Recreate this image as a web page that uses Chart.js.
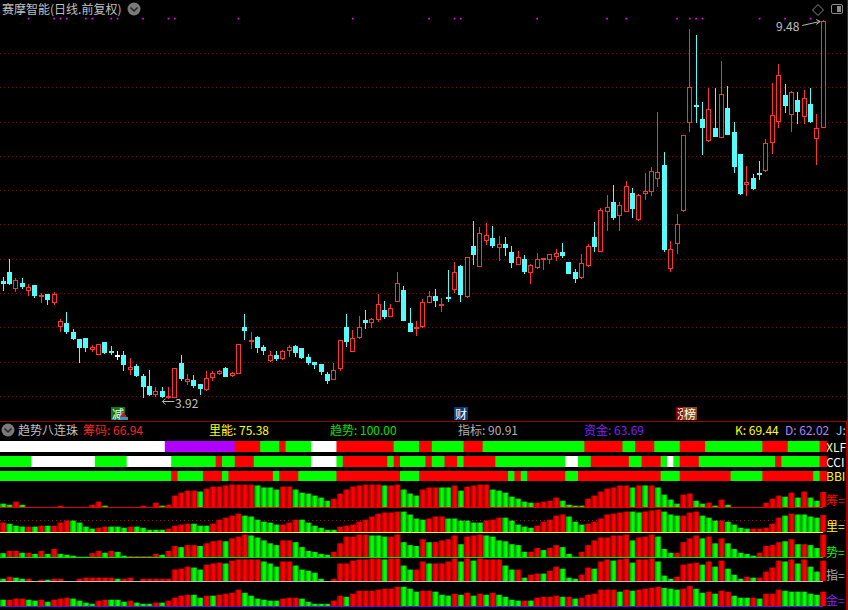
<!DOCTYPE html>
<html>
<head>
<meta charset="utf-8">
<title>赛摩智能</title>
<script src="https://cdn.jsdelivr.net/npm/chart.js@4"></script>
<style>
html, body { margin: 0; padding: 0; background: #000; }
#page { position: relative; width: 848px; height: 610px; overflow: hidden; background: #000; font-family: "Noto Sans CJK SC", "Liberation Sans", sans-serif; font-size: 12px; color: #c0c0c0; }
canvas { position: absolute; left: 0; }
.t { position: absolute; white-space: nowrap; line-height: 16px; }
.badge { position: absolute; top: 407px; height: 13px; width: 14px; overflow: hidden; color: #fff; font-size: 12px; line-height: 13px; text-align: center; }
.rule { position: absolute; background: #a00000; }
svg { position: absolute; }
</style>
</head>
<body>
<div id="page">
  <span class="t" style="left:2px;top:1px">赛摩智能(日线.前复权)</span>
  <svg style="left:127px;top:2px" width="14" height="14"><circle cx="7" cy="7" r="6.5" fill="#7a7a7a"/><path d="M3.5 5.5 L7 9 L10.500 5.500" stroke="#222" stroke-width="1.500" fill="none"/></svg>
  <svg style="left:811px;top:3px" width="14" height="14"><path d="M7 1.500 L12.500 7 L7 12.500 L1.500 7 Z" stroke="#8a8a8a" fill="none"/></svg>
  <svg style="left:831px;top:4px" width="13" height="11"><rect x="0.500" y="0.500" width="11" height="9" rx="1.500" stroke="#8a8a8a" fill="none"/><rect x="6" y="2" width="4" height="6" fill="#8a8a8a"/></svg>

  <span class="t" style="left:776px;top:18px;font-size:12px">9.48</span>
  <span class="t" style="left:175px;top:395px;font-size:12px">3.92</span>

  <span class="badge" style="left:111px;background:#0a7a1a">减</span>
  <svg style="left:120px;top:412px" width="8" height="8"><path d="M3 0 L7 5 L0 5 Z" fill="#e01010"/><path d="M0 5 L8 5 L8 8 L0 8 Z" fill="#20a0c0"/></svg>
  <span class="badge" style="left:454px;background:#0a3c78">财</span>
  <span class="badge" style="left:676px;background:#8a0000">涨</span>
  <span class="badge" style="left:683px;background:#8a4a10">榜</span>

  <div class="rule" style="left:0;top:421px;width:848px;height:1px"></div>
  <div class="rule" style="left:847px;top:0;width:1px;height:421px"></div>
  <div class="rule" style="left:846px;top:421px;width:2px;height:189px"></div>

  <svg style="left:1px;top:423px" width="14" height="14"><circle cx="7" cy="7" r="6.500" fill="#7a7a7a"/><path d="M3.500 5.500 L7 9 L10.500 5.500" stroke="#222" stroke-width="1.500" fill="none"/></svg>
  <span class="t" style="left:18px;top:422px">趋势八连珠</span>
  <span class="t" style="left:83px;top:422px;color:#ff2020">筹码: 66.94</span>
  <span class="t" style="left:209px;top:422px;color:#ffff00">里能: 75.38</span>
  <span class="t" style="left:330px;top:422px;color:#00e000">趋势: 100.00</span>
  <span class="t" style="left:458px;top:422px;color:#b0b0b0">指标: 90.91</span>
  <span class="t" style="left:584px;top:422px;color:#8020ff">资金: 63.69</span>
  <span class="t" style="left:735px;top:422px;color:#ffff00">K: 69.44</span>
  <span class="t" style="left:785px;top:422px;color:#b080ff">D: 62.02</span>
  <span class="t" style="left:836px;top:422px;color:#a0d0ff">J:</span>

  <span class="t" style="left:826px;top:439px;color:#ffffc0">XLF</span>
  <span class="t" style="left:826px;top:454px;color:#ffffff">CCI</span>
  <span class="t" style="left:826px;top:468px;color:#ffff00">BBI</span>
  <span class="t" style="left:826px;top:492px;color:#ff0000">筹=</span>
  <span class="t" style="left:826px;top:518px;color:#ffff00">里=</span>
  <span class="t" style="left:826px;top:544px;color:#00ff00">势=</span>
  <span class="t" style="left:826px;top:567px;color:#b0b0b0">指=</span>
  <span class="t" style="left:826px;top:592px;color:#8020ff">金=</span>
</div>

<script>
// daily candles
var opens = [
5.65,5.78,5.53,5.62,5.50,5.59,5.42,5.46,5.33,4.97,
5.04,4.90,4.80,4.81,4.64,4.57,4.76,4.62,4.53,4.57,
4.35,4.40,4.26,4.11,3.98,4.04,3.94,3.94,4.45,4.17,
4.20,4.14,4.05,4.23,4.29,4.37,4.26,4.29,4.98,4.76,
4.83,4.68,4.48,4.57,4.51,4.62,4.70,4.67,4.54,4.46,
4.43,4.29,4.20,4.36,4.98,4.61,4.81,5.08,5.04,5.08,
5.23,5.13,5.35,5.52,5.04,4.94,4.97,5.33,5.43,5.29,
5.40,5.52,5.87,5.42,6.16,5.86,6.24,6.28,6.14,6.19,
6.08,5.89,5.97,5.77,5.84,5.96,5.96,6.00,6.08,5.93,
5.78,5.70,5.87,6.30,6.08,6.67,6.81,6.61,6.67,6.94,
6.54,6.92,6.96,7.15,7.35,5.82,6.20,6.68,7.97,8.22,
8.03,7.70,7.90,7.75,8.19,7.84,7.51,7.06,7.16,7.22,
7.26,7.68,7.99,8.38,8.08,8.31,8.06,8.25,7.74,7.90];
var highs = [
5.71,5.97,5.70,5.70,5.61,5.59,5.47,5.46,5.49,5.09,
5.20,4.95,4.80,4.81,4.71,4.73,4.76,4.70,4.62,4.62,
4.52,4.43,4.29,4.35,4.10,4.10,4.10,4.37,4.57,4.29,
4.27,4.14,4.33,4.33,4.35,4.39,4.32,4.73,5.17,4.90,
4.84,4.71,4.62,4.62,4.64,4.71,4.71,4.67,4.58,4.46,
4.43,4.32,4.45,4.79,5.17,4.93,5.14,5.23,5.11,5.46,
5.36,5.31,5.78,5.58,5.25,5.06,5.39,5.50,5.53,5.40,
5.81,5.93,5.89,6.00,6.53,6.44,6.50,6.46,6.31,6.30,
6.16,6.09,6.03,5.90,6.06,5.99,6.05,6.12,6.21,5.93,
5.83,6.05,6.20,6.52,6.72,6.91,7.06,6.81,7.12,7.02,
6.93,7.24,7.32,8.13,7.54,6.24,6.63,7.79,9.35,9.26,
8.28,8.48,8.48,8.88,8.51,7.98,7.51,7.34,7.22,7.41,
7.73,8.56,8.83,8.54,8.44,8.42,8.45,8.48,8.10,9.48];
var lows = [
5.50,5.59,5.49,5.54,5.43,5.40,5.33,5.30,5.30,4.90,
4.87,4.79,4.45,4.61,4.61,4.57,4.58,4.57,4.49,4.33,
4.27,4.24,3.93,3.96,3.95,3.93,3.92,3.94,4.18,4.13,
4.08,3.98,4.04,4.18,4.27,4.24,4.24,4.29,4.79,4.65,
4.59,4.57,4.46,4.48,4.49,4.54,4.54,4.51,4.42,4.36,
4.27,4.14,4.20,4.33,4.68,4.61,4.80,4.95,4.96,5.05,
5.09,5.12,5.34,5.06,4.90,4.84,4.96,5.33,5.27,5.20,
5.34,5.47,5.34,5.40,5.89,5.86,6.18,6.14,5.94,6.02,
5.84,5.89,5.75,5.61,5.83,5.81,5.90,5.94,5.99,5.75,
5.62,5.68,5.86,6.08,6.08,6.38,6.55,6.38,6.66,6.58,
6.53,6.84,6.90,7.03,6.08,5.78,6.05,6.66,7.84,7.97,
7.50,7.69,7.76,7.75,7.79,7.24,6.91,6.90,6.99,7.13,
7.25,7.51,7.90,8.12,7.84,7.95,7.95,7.97,7.35,7.90];
var closes = [
5.61,5.61,5.67,5.56,5.56,5.43,5.45,5.37,5.46,5.06,
4.90,4.80,4.67,4.67,4.68,4.72,4.59,4.59,4.53,4.42,
4.39,4.26,4.10,3.98,4.04,3.95,3.95,4.37,4.21,4.21,
4.11,4.07,4.23,4.30,4.33,4.24,4.30,4.72,4.92,4.79,
4.67,4.62,4.57,4.51,4.63,4.68,4.59,4.52,4.45,4.42,
4.32,4.18,4.34,4.78,4.76,4.82,4.97,5.04,5.10,5.31,
5.12,5.26,5.62,5.06,4.90,4.97,5.35,5.43,5.36,5.32,
5.39,5.78,5.45,6.00,6.03,6.35,6.32,6.16,6.20,6.14,
5.92,6.00,5.78,5.89,5.97,5.98,6.04,6.06,6.02,5.75,
5.68,5.91,6.16,6.15,6.69,6.73,6.58,6.76,7.05,6.71,
6.91,6.97,7.26,7.25,6.11,6.12,6.48,7.79,8.49,8.20,
7.90,8.18,7.76,8.40,7.79,7.32,6.93,7.10,7.00,7.21,
7.67,8.08,8.68,8.22,8.43,8.13,8.33,7.98,7.89,9.47];

var gridPrices = [3.96,4.46,4.97,5.47,5.97,6.48,6.98,7.48,7.98,8.49,8.99];
var signalDays = [4,8,9,10,13,14,17,18,22,26,27,37,55,67,71,72,84,95,98,106,108,109,110,119,123,127];
var signalLevel = 9.5;
var lowDay = 26, highDay = 129;

// colour strips, run lengths per day
var xlfRuns = "w26 p11 r4 g3 r1 g4 w4 r9 g4 r2 g5 r3 g16 r6 g2 r3 g4 r4 g9 r4 g5 r1";
var cciRuns = "g5 w10 g5 w7 g7 r1 g2 r3 g9 w4 g1 r7 g1 r1 g4 r1 g2 r2 g1 r5 g11 w2 g2 r6 g2 r3 g1 w1 g1 r3 g12 r1 g6 r1";
var bbiRuns = "g27 r1 g4 r3 g1 r7 g1 r3 g6 r10 g3 r14 g1 r1 g1 r6 g2 r13 g3 r8 g5 r8 g1 r1";

// five histograms, 0-100
var chouValues = [
15,10,24,10,0,0,0,0,0,6,0,0,0,0,10,24,6,0,0,0,
0,0,6,0,19,6,10,51,64,73,73,69,82,91,91,96,100,100,100,100,
96,87,87,78,91,91,78,64,60,51,42,28,37,60,78,91,96,100,100,100,
96,96,100,78,60,51,78,87,87,87,87,96,73,91,96,100,100,78,73,64,
46,37,24,19,19,24,28,42,28,10,6,6,37,51,69,82,87,96,96,87,
96,96,96,87,55,33,15,55,60,28,15,19,6,33,10,0,0,0,0,0,
19,37,51,46,64,42,69,42,28,66.94];
var chouRuns = "g2 r1 g1 r12 g1 r8 g1 r5 g1 r8 g4 r2 g6 r8 g1 r2 g3 r3 g2 r1 g1 r4 g7 r4 g4 r7 g1 r1 g1 r1 g4 r2 g2 r1 g1 r1 g1 r8 g1 r1 g1 r1 g2 r1";

var liangValues = [
42,37,28,24,24,24,28,28,28,42,51,51,42,24,15,19,24,24,24,19,
24,24,19,10,10,10,15,28,33,37,37,28,28,37,55,64,73,82,73,69,
55,46,42,33,33,42,55,55,42,28,19,10,10,24,28,33,46,55,69,82,
87,87,91,91,78,60,55,60,69,69,60,60,51,51,42,42,51,55,64,64,
51,33,24,19,28,46,55,73,78,69,46,33,37,46,60,78,82,87,91,91,
87,91,96,100,91,78,73,73,87,91,73,64,51,51,46,33,19,15,15,15,
19,37,64,73,82,78,78,69,64,75.38];
var liangRuns = "r1 g3 r1 g1 r1 g1 r3 g4 r2 g3 r1 g5 r4 g3 r5 g6 r3 g6 r10 g4 r3 g6 r3 g5 r5 g3 r7 g2 r3 g3 r3 g3 r1 g4 r5 g1 r1 g4 r1";

var shiValues = [
17,27,27,19,19,14,27,14,36,14,10,6,1,1,17,27,19,27,23,6,
4,4,4,4,14,10,27,49,44,53,53,49,61,70,74,70,83,91,100,96,
87,74,61,53,74,74,66,44,27,23,14,10,23,61,91,91,100,100,96,96,
91,91,100,66,53,49,79,66,66,74,79,96,57,91,96,100,96,91,74,70,
57,53,23,23,40,31,40,53,44,14,1,23,53,74,87,87,96,96,100,74,
87,91,100,91,36,19,19,66,83,96,83,91,61,83,61,36,19,14,6,19,
49,53,66,70,79,57,57,53,40,100];
var shiRuns = "g1 r2 g1 r1 g1 r1 g1 r1 g5 r2 g1 r1 g2 r5 g1 r2 g1 r2 g1 r3 g1 r3 g5 r2 g6 r6 g3 r2 g3 r1 g1 r4 g1 r3 g7 r2 g1 r2 g3 r8 g1 r3 g3 r4 g1 r1 g1 r1 g5 r4 g1 r1 g1 r1 g2 r1";

var zhiValues = [
10,19,15,10,10,0,6,6,10,10,0,0,10,15,15,15,15,15,10,10,
15,0,10,10,10,10,10,51,55,64,60,51,73,78,82,78,91,96,96,96,
96,87,78,64,87,87,69,51,46,37,10,0,10,78,78,91,96,96,100,100,
96,100,100,69,51,51,87,78,78,78,87,100,87,100,91,100,96,96,96,69,
51,51,15,28,33,33,46,64,55,15,10,28,60,55,87,96,91,96,100,82,
96,96,100,87,24,10,19,73,78,82,73,87,64,91,55,28,10,19,15,15,
42,60,91,87,96,78,96,64,42,90.91];
var zhiRuns = "g1 r1 g2 r3 g1 r10 g1 r11 g2 r3 g1 r5 g3 r2 g5 r9 g1 r2 g2 r2 g1 r4 g1 r1 g1 r4 g2 r1 g1 r2 g1 r2 g3 r2 g1 r2 g1 r2 g1 r3 g3 r4 g1 r1 g1 r1 g3 r1 g1 r4 g1 r1 g1 r1 g2 r1";

var jinValues = [
28,28,33,33,28,24,28,19,28,33,37,33,24,15,10,24,28,28,28,19,
24,15,10,10,15,15,24,37,46,50,50,37,46,46,50,55,59,73,59,46,
33,28,24,24,33,37,37,33,19,10,10,10,24,46,41,55,68,68,68,73,
77,77,86,86,77,64,68,68,64,50,46,55,50,59,46,55,50,59,50,41,
28,24,24,24,37,41,41,46,41,41,33,37,50,55,73,73,73,64,73,68,
73,77,81,86,81,77,73,77,90,77,59,64,55,68,64,46,37,37,37,33,
55,55,73,68,64,64,64,55,50,63.69];
var jinRuns = "g1 r3 g2 r1 g1 r3 g4 r2 g3 r1 g3 r1 g1 r4 g2 r1 g1 r4 g6 r3 g5 r2 g1 r8 g3 r2 g3 r1 g1 r1 g1 r1 g1 r1 g4 r1 g1 r4 g1 r1 g1 r6 g1 r1 g1 r4 g3 r2 g2 r1 g1 r2 g3 r1 g1 r3 g6 r1";

var RED = "#ff3232", CYAN = "#54fcfc";
var stripColors = { r: "#ff0000", g: "#00ff00", w: "#ffffff", p: "#b000ff" };
var barDark = { r: "#8c0000", g: "#008c00" };
var barBright = { r: "#ff0000", g: "#00ff00" };

function expandRuns(runs) {
    var out = [];
    runs.split(" ").forEach(function (run) {
        var n = parseInt(run.slice(1));
        for (var i = 0; i < n; i++) out.push(run[0]);
    });
    return out;
}

function addCanvas(top, height) {
    var c = document.createElement("canvas");
    c.width = 848;
    c.height = height;
    c.style.top = top + "px";
    c.style.width = "848px";
    c.style.height = height + "px";
    document.getElementById("page").appendChild(c);
    return c;
}

// every panel shares the day axis: one day is 6.357 px
var dayMin = -0.5, dayMax = 132.9;
var dayAxis = { type: "linear", min: dayMin, max: dayMax, offset: false, bounds: "data", display: false, grid: { display: false, offset: false } };

function baseOptions(yAxis, padding) {
    return {
        responsive: false,
        animation: false,
        devicePixelRatio: 1,
        events: [],
        layout: { padding: padding || 0, autoPadding: false },
        plugins: { legend: { display: false }, tooltip: { enabled: false } },
        datasets: { bar: { grouped: false, barPercentage: 1, categoryPercentage: 1, inflateAmount: 0 } },
        scales: { x: dayAxis, y: yAxis }
    };
}

var points = function (values) {
    return values.map(function (v, i) { return { x: i, y: v }; });
};

// keep candles on whole pixels so the 1px wicks stay sharp
var snapBars = {
    id: "snapBars",
    beforeDatasetsDraw: function (chart) {
        chart.getSortedVisibleDatasetMetas().forEach(function (meta) {
            if (meta.type !== "bar") return;
            meta.data.forEach(function (el) {
                el.x = Math.floor(el.x) + 0.5;
                el.y = Math.round(el.y);
                el.base = Math.round(el.base);
            });
        });
    }
};

var extremeArrows = {
    id: "extremeArrows",
    afterDatasetsDraw: function (chart) {
        var g = chart.ctx, xs = chart.scales.x, ys = chart.scales.y;
        g.save();
        g.strokeStyle = "#b8b8b8";
        g.lineWidth = 1;
        var lx = xs.getPixelForValue(lowDay) - 6, ly = Math.round(ys.getPixelForValue(lows[lowDay])) + 2.5;
        g.beginPath();
        g.moveTo(lx + 12, ly); g.lineTo(lx, ly);
        g.moveTo(lx + 3, ly - 3); g.lineTo(lx, ly); g.lineTo(lx + 3, ly + 3);
        var hx = xs.getPixelForValue(highDay) - 3, hy = ys.getPixelForValue(highs[highDay]) + 1.5;
        g.moveTo(hx - 18, hy + 4); g.lineTo(hx, hy);
        g.moveTo(hx - 4, hy - 2); g.lineTo(hx, hy); g.lineTo(hx - 4, hy + 3);
        g.stroke();
        g.restore();
    }
};

// price chart
var wickColors = [], bodyColors = [], bodyFills = [];
for (var i = 0; i < opens.length; i++) {
    var col = closes[i] > opens[i] ? RED : (closes[i] < opens[i] ? CYAN : "#ffffff");
    wickColors.push(col);
    bodyColors.push(col);
    bodyFills.push(closes[i] > opens[i] ? "#000000" : col);
}

var priceAxis = {
    type: "linear", min: 3.612, max: 9.773, bounds: "data", position: "left",
    afterBuildTicks: function (ax) { ax.ticks = gridPrices.map(function (v) { return { value: v }; }); },
    ticks: { display: false },
    border: { display: false, dash: [1, 3] },
    grid: { color: "#800808", lineWidth: 1, drawTicks: false }
};

new Chart(addCanvas(0, 420), {
    type: "bar",
    data: {
        datasets: [
            {
                label: "wick", order: 3, maxBarThickness: 1, backgroundColor: wickColors, borderWidth: 0,
                data: highs.map(function (h, i) { return { x: i, y: [lows[i], h] }; })
            },
            {
                label: "body", order: 2, maxBarThickness: 5, backgroundColor: bodyFills, borderColor: bodyColors,
                borderWidth: 1, borderSkipped: false, minBarLength: 2,
                data: opens.map(function (o, i) { return { x: i, y: [o, closes[i]] }; })
            },
            {
                type: "scatter", label: "signal", order: 1, pointStyle: "rect", pointRadius: 1.2, borderWidth: 0,
                backgroundColor: "#ff00ff",
                data: signalDays.map(function (d) { return { x: d, y: signalLevel }; })
            }
        ]
    },
    options: baseOptions(priceAxis),
    plugins: [snapBars, extremeArrows]
});

// colour strips
function drawStrip(top, height, runs) {
    var states = expandRuns(runs);
    new Chart(addCanvas(top, height), {
        type: "bar",
        data: {
            datasets: [{
                data: points(states.map(function () { return 1; })),
                barPercentage: 1.15,
                backgroundColor: states.map(function (s) { return stripColors[s]; })
            }]
        },
        options: baseOptions({ type: "linear", min: 0, max: 1, bounds: "data", display: false })
    });
}
drawStrip(441, 11, xlfRuns);
drawStrip(456, 11, cciRuns);
drawStrip(471, 10, bbiRuns);

// histograms
function barFill(states) {
    return function (c) {
        if (c.type !== "data") return "#000";
        var s = states[c.dataIndex], px = (c.dataIndex - dayMin) / (dayMax - dayMin) * c.chart.width;
        var grad = c.chart.ctx.createLinearGradient(px - 3.2, 0, px + 3.2, 0);
        grad.addColorStop(0, barDark[s]);
        grad.addColorStop(0.45, barBright[s]);
        grad.addColorStop(0.7, barBright[s]);
        grad.addColorStop(1, barDark[s]);
        return grad;
    };
}

function drawHist(base, values, runs, lineColor, midLine) {
    var states = expandRuns(runs);
    var yAxis = { type: "linear", min: 0, max: 107, bounds: "data", display: false };
    if (midLine) {
        yAxis = {
            type: "linear", min: 0, max: 107, bounds: "data", position: "left",
            afterBuildTicks: function (ax) { ax.ticks = [{ value: 50 }]; },
            ticks: { display: false },
            border: { display: false, dash: [1, 3] },
            grid: { color: "#a01010", drawTicks: false }
        };
    }
    var baseLine = {
        id: "baseLine",
        afterDatasetsDraw: function (chart) {
            var g = chart.ctx, xs = chart.scales.x, py = Math.round(chart.scales.y.getPixelForValue(0)) + 0.5;
            g.save();
            g.strokeStyle = lineColor;
            g.lineWidth = 1;
            g.beginPath();
            g.moveTo(xs.getPixelForValue(-0.5), py);
            g.lineTo(xs.getPixelForValue(129), py);
            g.stroke();
            g.restore();
        }
    };
    new Chart(addCanvas(base - 24, 26), {
        type: "bar",
        data: { datasets: [{ data: points(values), barPercentage: 1.02, backgroundColor: barFill(states) }] },
        options: baseOptions(yAxis, { bottom: 2 }),
        plugins: [baseLine]
    });
}
drawHist(507, chouValues, chouRuns, "#e00000", false);
drawHist(532, liangValues, liangRuns, "#ffff00", true);
drawHist(557, shiValues, shiRuns, "#00e000", false);
drawHist(581, zhiValues, zhiRuns, "#c0c0c0", false);
drawHist(606, jinValues, jinRuns, "#6a00ff", false);
</script>
</body>
</html>
